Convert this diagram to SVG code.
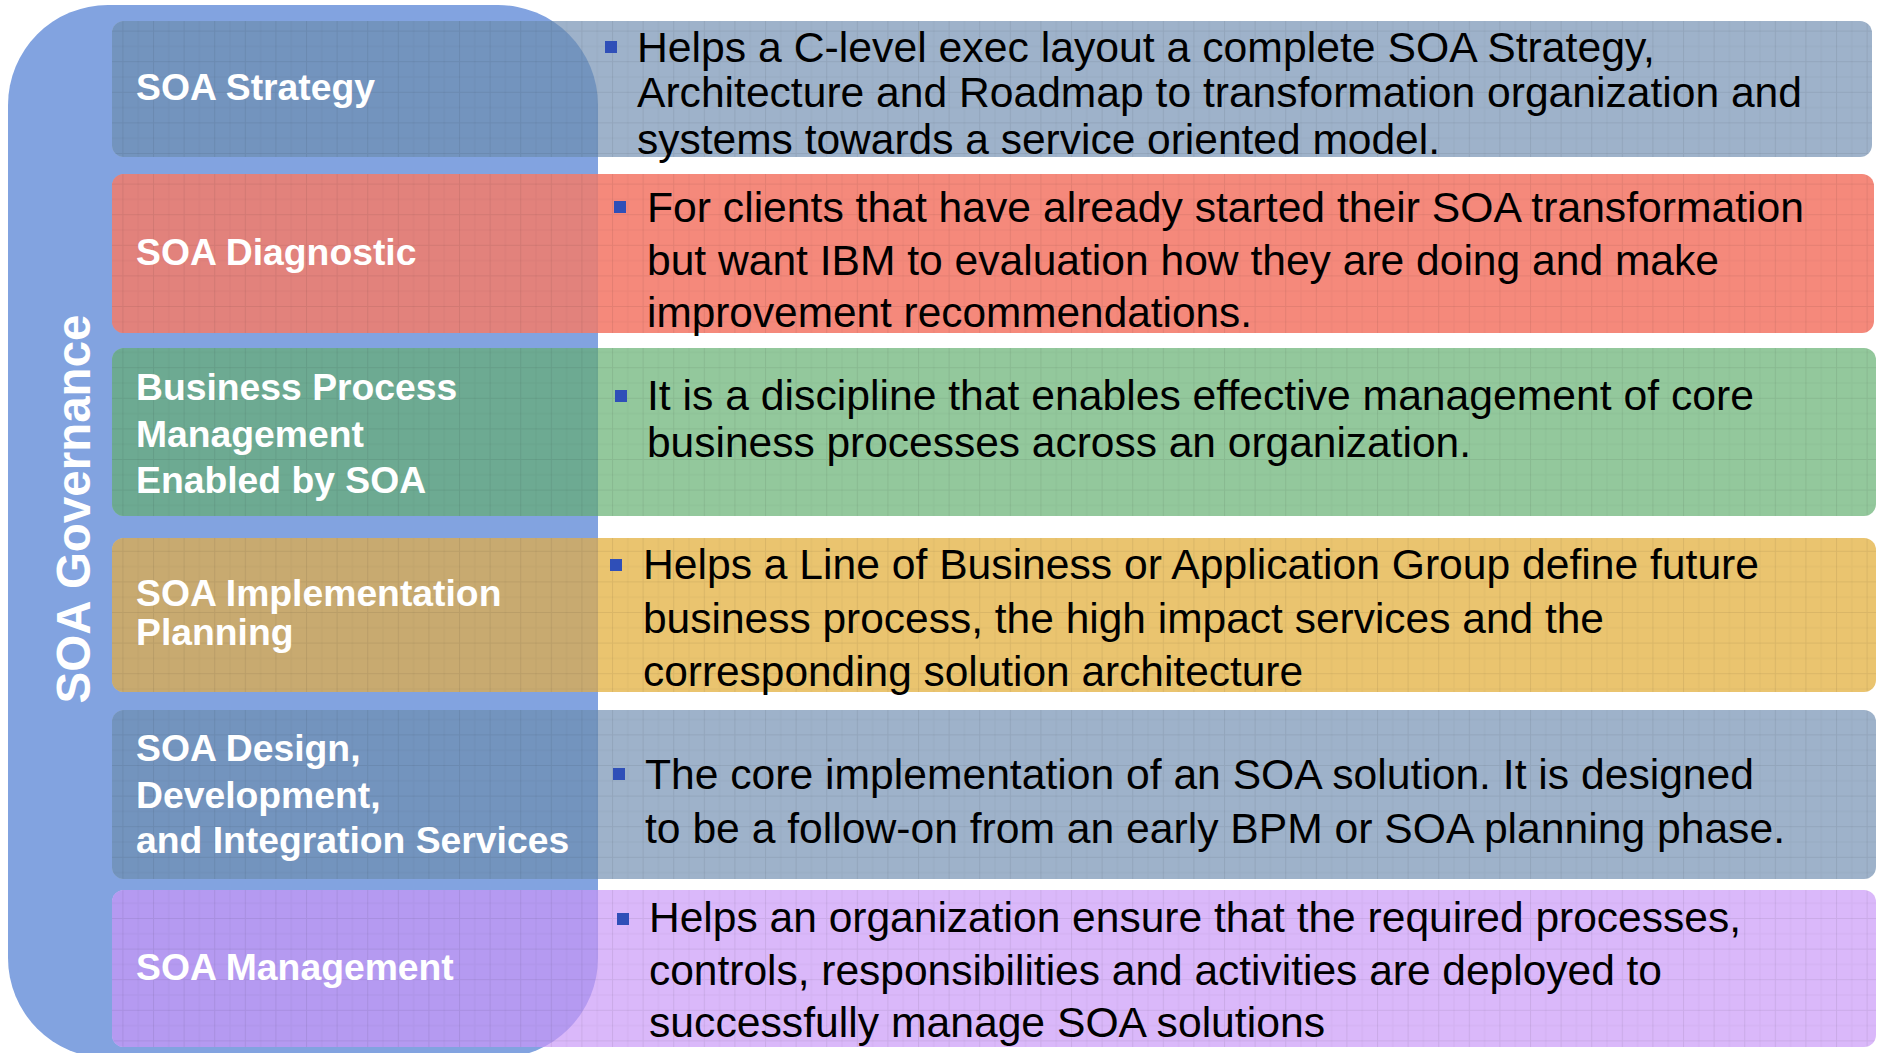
<svg xmlns="http://www.w3.org/2000/svg" width="1879" height="1053" viewBox="0 0 1879 1053">
<style>
.lbl{font-family:"Liberation Sans",Arial,sans-serif;font-weight:bold;font-size:37.3px;fill:#ffffff}
.txt{font-family:"Liberation Sans",Arial,sans-serif;font-size:42.5px;fill:#000000}
.gov{font-family:"Liberation Sans",Arial,sans-serif;font-weight:bold;font-size:47.5px;fill:#ffffff}
.bul{fill:#2F4FB8}
.grid{fill:url(#grid)}
</style>
<defs>
<pattern id="grid" patternUnits="userSpaceOnUse" width="30.6" height="30.6">
<path d="M0,0.5 H30.6 M0.5,0 V30.6" stroke="#000" stroke-opacity="0.07" stroke-width="1" fill="none"/>
<path d="M0,15.8 H30.6 M15.8,0 V30.6" stroke="#000" stroke-opacity="0.035" stroke-width="1" fill="none"/>
</pattern>
<clipPath id="cont">
<path d="M8,105 A100,100 0 0 1 108,5 L498,5 A100,100 0 0 1 598,105 L598,958 A100,100 0 0 1 498,1058 L108,1058 A100,100 0 0 1 8,958 Z"/>
</clipPath>
</defs>
<rect width="1879" height="1053" fill="#ffffff"/>
<g id="governance">
<path d="M8,105 A100,100 0 0 1 108,5 L498,5 A100,100 0 0 1 598,105 L598,958 A100,100 0 0 1 498,1058 L108,1058 A100,100 0 0 1 8,958 Z" fill="#82A3E0"/>
<text class="gov" transform="translate(90,509) rotate(-90)" text-anchor="middle">SOA Governance</text>
</g>
<g id="row-strategy">
<rect x="112" y="21" width="1760" height="136" rx="12" fill="#9EB2CA"/>
<rect x="112" y="21" width="1760" height="136" rx="12" fill="#7394BE" clip-path="url(#cont)"/>
<rect x="112" y="21" width="1760" height="136" rx="12" class="grid"/>
<text class="lbl" x="136" y="100">SOA Strategy</text>
<rect class="bul" x="605" y="41" width="12" height="12"/>
<text class="txt" x="637" y="62" textLength="1018" lengthAdjust="spacingAndGlyphs">Helps a C-level exec layout a complete SOA Strategy,</text>
<text class="txt" x="637" y="107" textLength="1165" lengthAdjust="spacingAndGlyphs">Architecture and Roadmap to transformation organization and</text>
<text class="txt" x="637" y="154" textLength="803" lengthAdjust="spacingAndGlyphs">systems towards a service oriented model.</text>
</g>
<g id="row-diagnostic">
<rect x="112" y="174" width="1762" height="159" rx="12" fill="#F5897B"/>
<rect x="112" y="174" width="1762" height="159" rx="12" fill="#E2827C" clip-path="url(#cont)"/>
<rect x="112" y="174" width="1762" height="159" rx="12" class="grid"/>
<text class="lbl" x="136" y="265">SOA Diagnostic</text>
<rect class="bul" x="614" y="201" width="12" height="12"/>
<text class="txt" x="647" y="222" textLength="1157" lengthAdjust="spacingAndGlyphs">For clients that have already started their SOA transformation</text>
<text class="txt" x="647" y="275" textLength="1072" lengthAdjust="spacingAndGlyphs">but want IBM to evaluation how they are doing and make</text>
<text class="txt" x="647" y="327" textLength="605" lengthAdjust="spacingAndGlyphs">improvement recommendations.</text>
</g>
<g id="row-bpm">
<rect x="112" y="348" width="1764" height="168" rx="12" fill="#93C89C"/>
<rect x="112" y="348" width="1764" height="168" rx="12" fill="#6DAA92" clip-path="url(#cont)"/>
<rect x="112" y="348" width="1764" height="168" rx="12" class="grid"/>
<text class="lbl" x="136" y="400">Business Process</text>
<text class="lbl" x="136" y="447">Management</text>
<text class="lbl" x="136" y="493">Enabled by SOA</text>
<rect class="bul" x="615" y="390" width="12" height="12"/>
<text class="txt" x="647" y="410" textLength="1107" lengthAdjust="spacingAndGlyphs">It is a discipline that enables effective management of core</text>
<text class="txt" x="647" y="457" textLength="824" lengthAdjust="spacingAndGlyphs">business processes across an organization.</text>
</g>
<g id="row-implementation">
<rect x="112" y="538" width="1764" height="154" rx="12" fill="#EAC46F"/>
<rect x="112" y="538" width="1764" height="154" rx="12" fill="#C8AA70" clip-path="url(#cont)"/>
<rect x="112" y="538" width="1764" height="154" rx="12" class="grid"/>
<text class="lbl" x="136" y="606">SOA Implementation</text>
<text class="lbl" x="136" y="645">Planning</text>
<rect class="bul" x="610" y="559" width="12" height="12"/>
<text class="txt" x="643" y="579" textLength="1116" lengthAdjust="spacingAndGlyphs">Helps a Line of Business or Application Group define future</text>
<text class="txt" x="643" y="633" textLength="961" lengthAdjust="spacingAndGlyphs">business process, the high impact services and the</text>
<text class="txt" x="643" y="686" textLength="660" lengthAdjust="spacingAndGlyphs">corresponding solution architecture</text>
</g>
<g id="row-design">
<rect x="112" y="710" width="1764" height="169" rx="12" fill="#9EB2CA"/>
<rect x="112" y="710" width="1764" height="169" rx="12" fill="#7394BE" clip-path="url(#cont)"/>
<rect x="112" y="710" width="1764" height="169" rx="12" class="grid"/>
<text class="lbl" x="136" y="761">SOA Design,</text>
<text class="lbl" x="136" y="808">Development,</text>
<text class="lbl" x="136" y="853">and Integration Services</text>
<rect class="bul" x="613" y="768" width="12" height="12"/>
<text class="txt" x="645" y="789" textLength="1109" lengthAdjust="spacingAndGlyphs">The core implementation of an SOA solution. It is designed</text>
<text class="txt" x="645" y="843" textLength="1140" lengthAdjust="spacingAndGlyphs">to be a follow-on from an early BPM or SOA planning phase.</text>
</g>
<g id="row-management">
<rect x="112" y="890" width="1764" height="157" rx="12" fill="#DAB8FA"/>
<rect x="112" y="890" width="1764" height="157" rx="12" fill="#B59AF1" clip-path="url(#cont)"/>
<rect x="112" y="890" width="1764" height="157" rx="12" class="grid"/>
<text class="lbl" x="136" y="980">SOA Management</text>
<rect class="bul" x="617" y="913" width="12" height="12"/>
<text class="txt" x="649" y="932" textLength="1092" lengthAdjust="spacingAndGlyphs">Helps an organization ensure that the required processes,</text>
<text class="txt" x="649" y="985" textLength="1013" lengthAdjust="spacingAndGlyphs">controls, responsibilities and activities are deployed to</text>
<text class="txt" x="649" y="1037" textLength="676" lengthAdjust="spacingAndGlyphs">successfully manage SOA solutions</text>
</g>
<g id="connectors"/>
</svg>
